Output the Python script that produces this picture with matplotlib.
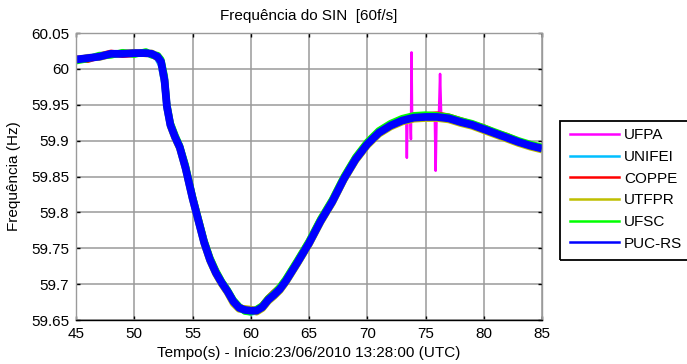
import matplotlib
matplotlib.use("Agg")
import matplotlib.pyplot as plt
from matplotlib.lines import Line2D
from matplotlib.patches import Rectangle
from matplotlib.ticker import FuncFormatter

plt.rcParams['font.family'] = ['Liberation Sans', 'DejaVu Sans']

# Time axis (s) shared by the PMU series
t = [45, 46, 47, 48, 49, 50, 51, 51.5, 52, 52.3, 52.6, 52.8, 53.1, 53.5, 53.9,
     54.4, 55, 55.5, 56, 56.5, 57, 57.5, 58, 58.5, 59, 59.5, 60, 60.5, 61, 61.5,
     62, 62.5, 63, 64, 65, 66, 67, 68, 69, 70, 71, 72, 73, 74, 75, 76, 77, 78,
     79, 80, 81, 82, 83, 84, 85]

unifei = [60.013, 60.015, 60.017, 60.020, 60.021, 60.022, 60.022, 60.021, 60.015, 60.006,
          59.980, 59.945, 59.921, 59.904, 59.890, 59.861, 59.819, 59.788, 59.757, 59.733,
          59.715, 59.701, 59.689, 59.675, 59.666, 59.663, 59.661, 59.662, 59.667, 59.677,
          59.684, 59.692, 59.703, 59.729, 59.756, 59.787, 59.814, 59.846, 59.873, 59.894,
          59.910, 59.920, 59.927, 59.931, 59.932, 59.932, 59.930, 59.925, 59.921, 59.915,
          59.909, 59.903, 59.897, 59.892, 59.888]

coppe = [60.014, 60.013, 60.018, 60.022, 60.020, 60.021, 60.023, 60.020, 60.016, 60.011,
         59.986, 59.950, 59.924, 59.906, 59.892, 59.864, 59.822, 59.791, 59.760, 59.736,
         59.718, 59.703, 59.691, 59.677, 59.668, 59.665, 59.664, 59.664, 59.670, 59.680,
         59.688, 59.695, 59.706, 59.732, 59.759, 59.790, 59.817, 59.849, 59.876, 59.897,
         59.913, 59.923, 59.930, 59.934, 59.935, 59.936, 59.933, 59.928, 59.923, 59.918,
         59.911, 59.906, 59.899, 59.894, 59.890]

utfpr = [60.012, 60.016, 60.016, 60.020, 60.022, 60.023, 60.021, 60.022, 60.018, 60.008,
         59.981, 59.946, 59.920, 59.903, 59.889, 59.860, 59.818, 59.787, 59.756, 59.732,
         59.714, 59.700, 59.688, 59.673, 59.665, 59.666, 59.665, 59.661, 59.666, 59.676,
         59.683, 59.691, 59.702, 59.728, 59.755, 59.786, 59.813, 59.845, 59.872, 59.893,
         59.909, 59.919, 59.926, 59.930, 59.931, 59.931, 59.929, 59.924, 59.920, 59.914,
         59.908, 59.902, 59.896, 59.891, 59.887]

ufsc = [60.011, 60.014, 60.019, 60.019, 60.023, 60.020, 60.024, 60.019, 60.019, 60.013,
        59.990, 59.952, 59.925, 59.908, 59.893, 59.866, 59.823, 59.792, 59.761, 59.737,
        59.719, 59.704, 59.692, 59.678, 59.669, 59.662, 59.661, 59.665, 59.670, 59.680,
        59.687, 59.696, 59.707, 59.733, 59.760, 59.791, 59.818, 59.850, 59.877, 59.898,
        59.914, 59.924, 59.931, 59.935, 59.936, 59.935, 59.933, 59.928, 59.924, 59.918,
        59.912, 59.906, 59.900, 59.895, 59.891]

puc_rs = [60.013, 60.015, 60.017, 60.021, 60.021, 60.022, 60.022, 60.021, 60.017, 60.010,
          59.984, 59.948, 59.922, 59.905, 59.891, 59.862, 59.820, 59.789, 59.758, 59.734,
          59.716, 59.702, 59.690, 59.676, 59.667, 59.664, 59.663, 59.663, 59.668, 59.678,
          59.685, 59.693, 59.704, 59.730, 59.757, 59.788, 59.815, 59.847, 59.874, 59.895,
          59.911, 59.921, 59.928, 59.932, 59.933, 59.933, 59.931, 59.926, 59.922, 59.916,
          59.910, 59.904, 59.898, 59.893, 59.889]

# UFPA has its own sampling with the measurement glitches near 73.8 s and 76.2 s
t_ufpa = [45, 46, 47, 48, 49, 50, 51, 51.5, 52, 52.3, 52.6, 52.8, 53.1, 53.5, 53.9,
          54.4, 55, 55.5, 56, 56.5, 57, 57.5, 58, 58.5, 59, 59.5, 60, 60.5, 61, 61.5,
          62, 62.5, 63, 64, 65, 66, 67, 68, 69, 70, 71, 72, 73,
          73.35, 73.4, 73.45, 73.7, 73.75, 73.8, 73.85, 74, 75,
          75.8, 75.87, 75.95, 76.15, 76.25, 76.35,
          77, 78, 79, 80, 81, 82, 83, 84, 85]
ufpa = [60.012, 60.014, 60.018, 60.022, 60.020, 60.021, 60.021, 60.022, 60.020, 60.014,
        59.992, 59.958, 59.932, 59.912, 59.897, 59.868, 59.815, 59.783, 59.752, 59.730,
        59.712, 59.698, 59.685, 59.671, 59.664, 59.664, 59.664, 59.663, 59.667, 59.677,
        59.684, 59.692, 59.703, 59.729, 59.756, 59.787, 59.814, 59.846, 59.873, 59.894,
        59.910, 59.920, 59.927,
        59.929, 59.876, 59.930, 59.931, 59.902, 60.023, 59.932, 59.932, 59.933,
        59.933, 59.858, 59.933, 59.934, 59.993, 59.933,
        59.930, 59.925, 59.921, 59.915, 59.909, 59.903, 59.897, 59.892, 59.888]

names = ['UFPA', 'UNIFEI', 'COPPE', 'UTFPR', 'UFSC', 'PUC-RS']
colors = ['#ff00ff', '#00bfff', '#ff0000', '#bfbf00', '#00ff00', '#0000ff']
series = [(t_ufpa, ufpa), (t, unifei), (t, coppe), (t, utfpr), (t, ufsc), (t, puc_rs)]
widths = [1.8, 5.0, 5.0, 5.0, 5.0, 5.6]

W, H = 687, 364
fig = plt.figure(figsize=(W / 100, H / 100), dpi=100)
ax = fig.add_axes([76 / W, 1 - 320 / H, (542 - 76) / W, (320 - 33) / H])

for (x, y), c, lw in zip(series, colors, widths):
    ax.plot(x, y, color=c, lw=lw, solid_joinstyle='round', solid_capstyle='butt')

ax.set_xlim(45, 85)
ax.set_ylim(59.65, 60.05)
ax.set_xticks(range(45, 86, 5))
ax.set_yticks([59.65, 59.7, 59.75, 59.8, 59.85, 59.9, 59.95, 60.0, 60.05])
ax.yaxis.set_major_formatter(FuncFormatter(lambda v, p: '%g' % round(v, 2)))
ax.grid(True, color='#9a9a9a', lw=1.1)
ax.set_axisbelow(True)
ax.tick_params(direction='in', top=True, right=True, length=3, width=1.0,
               labelsize=11, pad=5, colors='black')
for side, s in ax.spines.items():
    s.set_linewidth(1.0)
    s.set_color('black' if side == 'bottom' else '#9a9a9a')

ax.set_title('Frequência do SIN  [60f/s]', fontsize=11, pad=9.5)
ax.set_xlabel('Tempo(s) - Início:23/06/2010 13:28:00 (UTC)', fontsize=11, labelpad=4)
ax.set_ylabel('Frequência (Hz)', fontsize=11, labelpad=7)

# Legend: entries without their own frame, boxed by a rectangle running past the right edge
handles = [Line2D([], [], color=c, lw=1.8) for c in colors]
fig.legend(handles, names, loc='upper left', bbox_to_anchor=(561.5 / W, 1 - 120 / H),
           fontsize=11, frameon=False, borderaxespad=0,
           handlelength=3.2, handletextpad=0.35, labelspacing=0.5, borderpad=0.55)
fig.patches.append(Rectangle((560 / W, 1 - 260 / H), 150 / W, (260 - 121) / H,
                             transform=fig.transFigure, facecolor='none',
                             edgecolor='black', lw=1.3, zorder=5))

fig.savefig('out.png', dpi=100)
